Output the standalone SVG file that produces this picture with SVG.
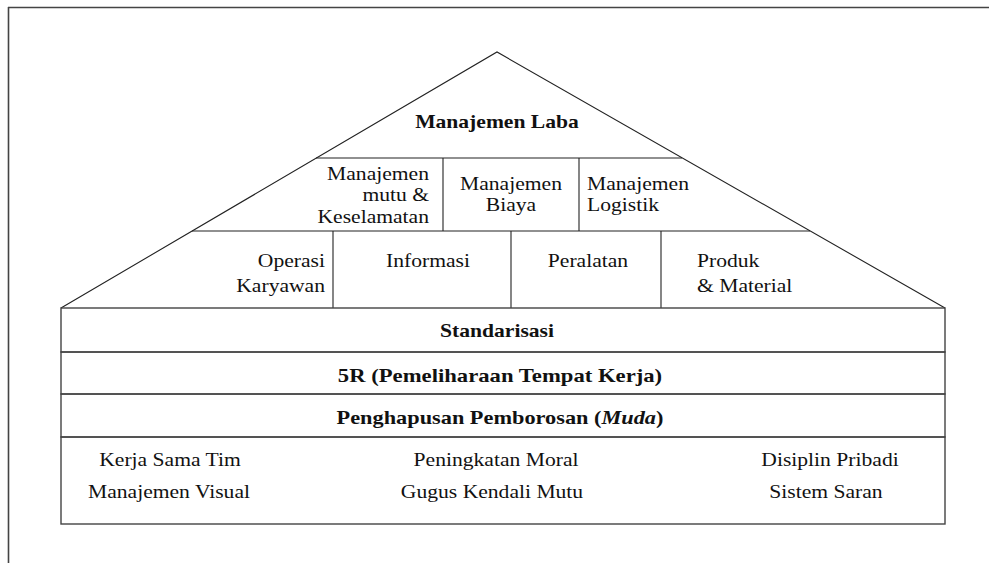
<svg xmlns="http://www.w3.org/2000/svg" width="989" height="563" viewBox="0 0 989 563">
  <style>
    .frame { stroke: #444; stroke-width: 1.6; fill: none; }
    .ln { stroke: #222; stroke-width: 1.1; fill: none; }
    .box { stroke: #444; stroke-width: 1.4; fill: none; }
    .t { font-family: "Liberation Serif", "Times New Roman", serif; font-size: 18px; fill: #111; }
    .b { font-weight: bold; }
    .m { text-anchor: middle; }
    .e { text-anchor: end; }
  </style>
  <rect width="989" height="563" fill="#fff"/>

  <!-- page frame -->
  <g id="frame">
    <line class="frame" x1="8" y1="7.5" x2="989" y2="7.5"/>
    <line class="frame" x1="8.5" y1="7" x2="8.5" y2="563"/>
  </g>

  <!-- roof outline and internal dividers -->
  <g id="connectors">
    <polyline class="ln" points="61,308 497,52 945,308"/>
    <line class="ln" x1="316" y1="158" x2="682" y2="158"/>
    <line class="ln" x1="192" y1="231" x2="810" y2="231"/>
    <line class="ln" x1="443" y1="158" x2="443" y2="231"/>
    <line class="ln" x1="579" y1="158" x2="579" y2="231"/>
    <line class="ln" x1="333" y1="231" x2="333" y2="308"/>
    <line class="ln" x1="511" y1="231" x2="511" y2="308"/>
    <line class="ln" x1="661" y1="231" x2="661" y2="308"/>
  </g>

  <g id="laba">
    <text class="t b m" transform="translate(497 128) scale(1.2 1)">Manajemen Laba</text>
  </g>

  <g id="mutu">
    <text class="t e" transform="translate(429 180) scale(1.2 1)">Manajemen</text>
    <text class="t e" transform="translate(429 201) scale(1.2 1)">mutu &amp;</text>
    <text class="t e" transform="translate(429 223) scale(1.2 1)">Keselamatan</text>
  </g>

  <g id="biaya">
    <text class="t m" transform="translate(511 190) scale(1.2 1)">Manajemen</text>
    <text class="t m" transform="translate(511 211) scale(1.2 1)">Biaya</text>
  </g>

  <g id="logistik">
    <text class="t" transform="translate(587 190) scale(1.2 1)">Manajemen</text>
    <text class="t" transform="translate(587 211) scale(1.2 1)">Logistik</text>
  </g>

  <g id="operasi">
    <text class="t e" transform="translate(325 267) scale(1.2 1)">Operasi</text>
    <text class="t e" transform="translate(325 292) scale(1.2 1)">Karyawan</text>
  </g>

  <g id="informasi">
    <text class="t m" transform="translate(428 267) scale(1.2 1)">Informasi</text>
  </g>

  <g id="peralatan">
    <text class="t m" transform="translate(588 267) scale(1.2 1)">Peralatan</text>
  </g>

  <g id="produk">
    <text class="t" transform="translate(697 267) scale(1.2 1)">Produk</text>
    <text class="t" transform="translate(697 292) scale(1.2 1)">&amp; Material</text>
  </g>

  <!-- foundation -->
  <g id="standarisasi">
    <rect class="box" x="61" y="308" width="884" height="44"/>
    <text class="t b m" transform="translate(497 337) scale(1.2 1)">Standarisasi</text>
  </g>

  <g id="lima-r">
    <rect class="box" x="61" y="352" width="884" height="42"/>
    <text class="t b m" transform="translate(500 382) scale(1.26 1)">5R (Pemeliharaan Tempat Kerja)</text>
  </g>

  <g id="muda">
    <rect class="box" x="61" y="394" width="884" height="43"/>
    <text class="t b m" transform="translate(500 424) scale(1.24 1)">Penghapusan Pemborosan (<tspan font-style="italic">Muda</tspan>)</text>
  </g>

  <g id="dasar">
    <rect class="box" x="61" y="437" width="884" height="87"/>
    <text class="t m" transform="translate(170 466) scale(1.2 1)">Kerja Sama Tim</text>
    <text class="t m" transform="translate(169 498) scale(1.2 1)">Manajemen Visual</text>
    <text class="t m" transform="translate(496 466) scale(1.2 1)">Peningkatan Moral</text>
    <text class="t m" transform="translate(492 498) scale(1.2 1)">Gugus Kendali Mutu</text>
    <text class="t m" transform="translate(830 466) scale(1.2 1)">Disiplin Pribadi</text>
    <text class="t m" transform="translate(826 498) scale(1.2 1)">Sistem Saran</text>
  </g>
</svg>
